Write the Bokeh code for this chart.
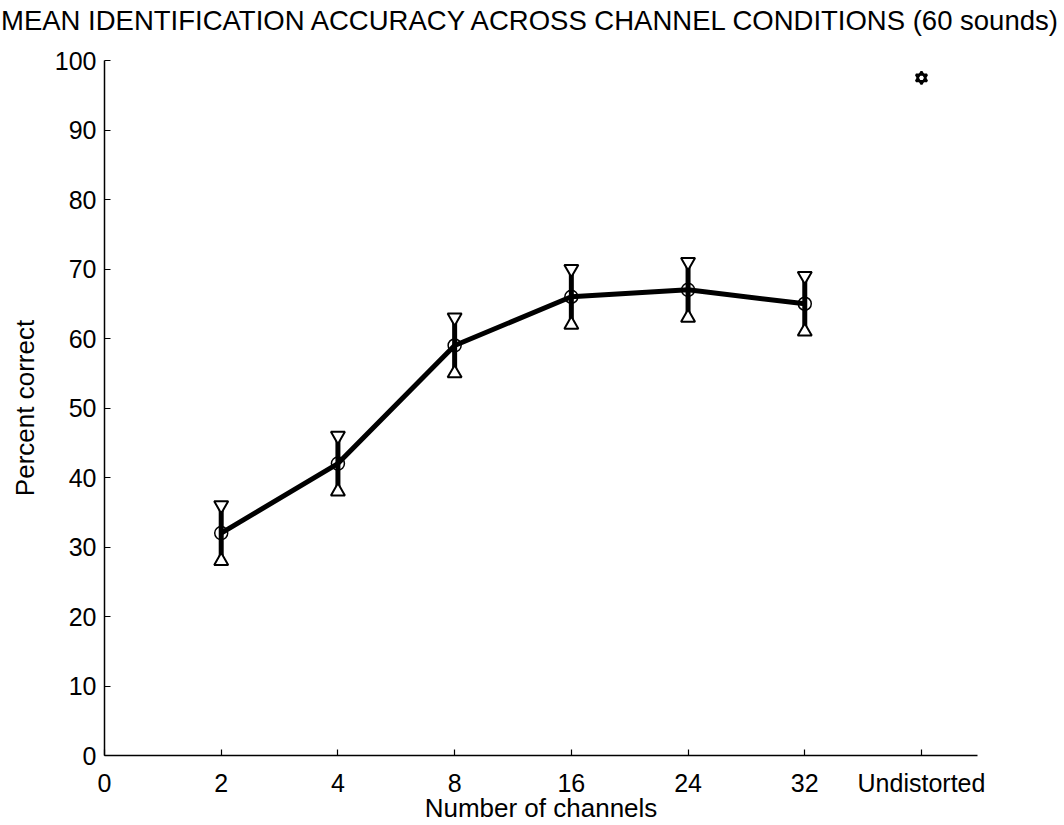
from bokeh.plotting import figure
from bokeh.models import Range1d, FixedTicker, Div
from bokeh.layouts import column
from bokeh.embed import file_html
from bokeh.resources import INLINE

# Tick labels along the x axis (equally spaced condition slots)
tick_labels = ["0", "2", "4", "8", "16", "24", "32", "Undistorted"]

# Vocoded conditions: number of channels and mean accuracy (%)
conditions = ["2", "4", "8", "16", "24", "32"]
mean_correct = [32, 42, 59, 66, 67, 65]
upper_err = [36, 46, 63, 70, 71, 69]
lower_err = [28, 38, 55, 62, 63, 61]

# Unprocessed (undistorted) sounds
undistorted_correct = 97.5

TITLE = "MEAN IDENTIFICATION ACCURACY ACROSS CHANNEL CONDITIONS (60 sounds)"
FONT = "Liberation Sans"
TITLE_H = 40

xs = [tick_labels.index(c) for c in conditions]
x_und = tick_labels.index("Undistorted")

# Title as a header strip above the figure
header = Div(
    text=TITLE, width=1064, height=TITLE_H, margin=0,
    styles={
        "font-family": FONT, "font-size": "27.5px", "color": "black",
        "line-height": "42px", "white-space": "nowrap",
        "padding-left": "1px", "overflow": "visible",
    },
)

p = figure(
    width=1064, height=825 - TITLE_H,
    output_backend="svg", toolbar_location=None,
    x_range=Range1d(0, 7.48), y_range=Range1d(0, 100),
    min_border_left=104, min_border_right=87,
    min_border_top=60 - TITLE_H, min_border_bottom=65,
    margin=0,
)
p.title = None

p.outline_line_color = None
p.xgrid.visible = False
p.ygrid.visible = False
p.background_fill_color = "white"
p.border_fill_color = "white"

# Axes
p.xaxis.ticker = FixedTicker(ticks=list(range(len(tick_labels))))
p.xaxis.major_label_overrides = {i: t for i, t in enumerate(tick_labels)}
p.yaxis.ticker = FixedTicker(ticks=list(range(0, 101, 10)))
for ax in (p.xaxis, p.yaxis):
    ax.axis_line_color = "black"
    ax.axis_line_width = 1.5
    ax.major_tick_line_color = "black"
    ax.major_tick_line_width = 1.2
    ax.major_tick_in = 6
    ax.major_tick_out = 0
    ax.minor_tick_line_color = None
    ax.major_label_text_font = FONT
    ax.major_label_text_font_size = "25px"
    ax.major_label_text_color = "black"
    ax.axis_label_text_font = FONT
    ax.axis_label_text_font_size = "26px"
    ax.axis_label_text_font_style = "normal"
    ax.axis_label_text_color = "black"
p.xaxis.axis_label = "Number of channels"
p.yaxis.axis_label = "Percent correct"
p.xaxis.major_label_standoff = 13
p.yaxis.major_label_standoff = 8
p.xaxis.axis_label_standoff = -7
p.yaxis.axis_label_standoff = 12

# Error bars
p.segment(x0=xs, y0=lower_err, x1=xs, y1=upper_err,
          line_color="black", line_width=5)

# Mean curve
p.line(xs, mean_correct, line_color="black", line_width=5)
p.scatter(xs, mean_correct, marker="circle", size=13,
          line_color="black", line_width=1.5, fill_alpha=0)

# Error-bar end caps
p.scatter(xs, upper_err, marker="inverted_triangle", size=14,
          line_color="black", line_width=2, fill_color="white")
p.scatter(xs, lower_err, marker="triangle", size=14,
          line_color="black", line_width=2, fill_color="white")

# Undistorted reference point (hexagram)
p.scatter([x_und], [undistorted_correct], marker="triangle", size=11,
          line_color="black", line_width=2.2, fill_color="white")
p.scatter([x_und], [undistorted_correct], marker="inverted_triangle", size=11,
          line_color="black", line_width=2.2, fill_alpha=0)

layout = column(header, p, spacing=0, margin=0)
open("out.html", "w").write(file_html(layout, INLINE))
